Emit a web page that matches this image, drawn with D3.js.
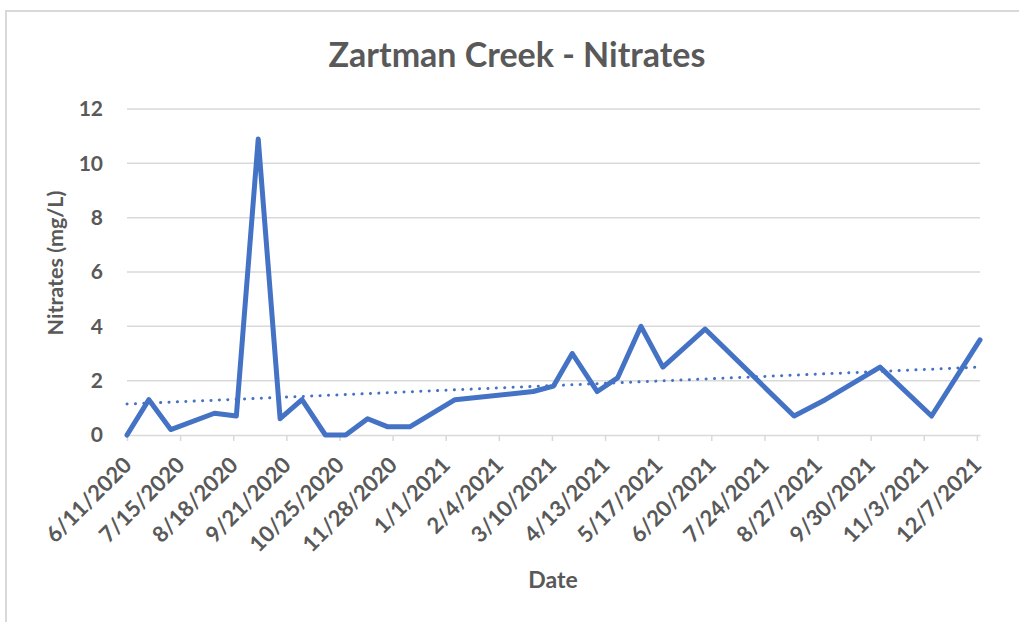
<!DOCTYPE html>
<html>
<head>
<meta charset="utf-8">
<script src="https://cdn.jsdelivr.net/npm/d3@7"></script>
<style>
    body { margin: 0; background: #fff; }
    svg { display: block; font-family: Lato, "Open Sans", sans-serif; }
    .tick-label { font-family: Lato, "Open Sans", sans-serif; font-weight: bold; fill: #595959; }
</style>
</head>
<body>
<div id="chart"></div>
<script>
// sample dates and nitrate readings (mg/L)
const sampleDates = [
    "6/11/2020", "6/25/2020", "7/9/2020", "8/6/2020", "8/20/2020", "9/3/2020",
    "9/17/2020", "10/1/2020", "10/16/2020", "10/29/2020", "11/12/2020", "11/25/2020",
    "12/9/2020", "1/7/2021", "2/26/2021", "3/11/2021", "3/23/2021", "4/8/2021",
    "4/21/2021", "5/6/2021", "5/20/2021", "6/16/2021", "8/12/2021", "9/1/2021",
    "10/6/2021", "11/8/2021", "12/9/2021"
];
const nitrates = [
    0, 1.3, 0.2, 0.8, 0.7, 10.9,
    0.6, 1.3, 0, 0, 0.6, 0.3,
    0.3, 1.3, 1.6, 1.8, 3.0, 1.6,
    2.1, 4.0, 2.5, 3.9, 0.7, 1.3,
    2.5, 0.7, 3.5
];

// linear trendline, values read at the first and last date
const trendValues = [1.14, 2.5];

// axis tick labels
const xTickLabels = [
    "6/11/2020", "7/15/2020", "8/18/2020", "9/21/2020", "10/25/2020", "11/28/2020",
    "1/1/2021", "2/4/2021", "3/10/2021", "4/13/2021", "5/17/2021", "6/20/2021",
    "7/24/2021", "8/27/2021", "9/30/2021", "11/3/2021", "12/7/2021"
];
const yTicks = [0, 2, 4, 6, 8, 10, 12];

const W = 1019, H = 622;
const parse = d3.utcParse("%m/%d/%Y");
const fmt = d => `${d.getUTCMonth() + 1}/${d.getUTCDate()}/${d.getUTCFullYear()}`;

const data = sampleDates.map((d, i) => ({ date: parse(d), value: nitrates[i] }));

const svg = d3.select("#chart").append("svg")
    .attr("width", W)
    .attr("height", H);

// chart frame (runs off the right and bottom edge)
svg.append("rect")
    .attr("x", 6).attr("y", 11)
    .attr("width", W + 20).attr("height", H + 20)
    .attr("fill", "#fff")
    .attr("stroke", "#d9d9d9")
    .attr("stroke-width", 2);

// scales
const x = d3.scaleUtc()
    .domain(d3.extent(data, d => d.date))
    .range([127, 980]);

const y = d3.scaleLinear()
    .domain([0, 12])
    .range([435, 109]);

// gridlines
svg.append("g")
    .selectAll("line")
    .data(yTicks.filter(t => t > 0))
    .join("line")
    .attr("x1", x.range()[0]).attr("x2", x.range()[1])
    .attr("y1", d => y(d)).attr("y2", d => y(d))
    .attr("stroke", "#d9d9d9")
    .attr("stroke-width", 1.5);

// y axis labels
const yAxis = svg.append("g")
    .attr("transform", `translate(${x.range()[0]},0)`)
    .call(d3.axisLeft(y).tickValues(yTicks).tickSize(0).tickPadding(24));
yAxis.attr("font-family", null).attr("font-size", null);
yAxis.select(".domain").remove();
yAxis.selectAll("text")
    .attr("class", "tick-label")
    .style("font-size", "21px");

// x axis
const xAxis = svg.append("g")
    .attr("transform", `translate(0,${y(0)})`)
    .call(d3.axisBottom(x)
        .tickValues(xTickLabels.map(parse))
        .tickFormat(fmt)
        .tickSizeInner(6)
        .tickSizeOuter(0));
xAxis.attr("font-family", null).attr("font-size", null);
xAxis.select(".domain").attr("stroke", "#d9d9d9").attr("stroke-width", 1.5);
xAxis.selectAll(".tick line").attr("stroke", "#d9d9d9").attr("stroke-width", 1.5);
xAxis.selectAll("text")
    .attr("class", "tick-label")
    .style("font-size", "22px")
    .attr("text-anchor", "end")
    .attr("x", 0)
    .attr("y", 0)
    .attr("dy", "0.35em")
    .attr("transform", "translate(0,26) rotate(-45)");

const line = d3.line()
    .x(d => x(d.date))
    .y(d => y(d.value));

svg.append("path")
    .datum(data)
    .attr("fill", "none")
    .attr("stroke", "#4472c4")
    .attr("stroke-width", 5)
    .attr("stroke-linejoin", "round")
    .attr("stroke-linecap", "round")
    .attr("d", line);

svg.append("path")
    .datum(x.domain().map((d, i) => ({ date: d, value: trendValues[i] })))
    .attr("fill", "none")
    .attr("stroke", "#4472c4")
    .attr("stroke-width", 3)
    .attr("stroke-linecap", "round")
    .attr("stroke-dasharray", "0.1 8.3")
    .attr("d", line);

// title and axis labels
svg.append("text")
    .attr("x", 517).attr("y", 67)
    .attr("text-anchor", "middle")
    .style("font-size", "34px")
    .style("font-weight", "bold")
    .attr("fill", "#595959")
    .text("Zartman Creek - Nitrates");

svg.append("text")
    .attr("transform", "translate(63,263) rotate(-90)")
    .attr("text-anchor", "middle")
    .style("font-size", "21.5px")
    .style("font-weight", "bold")
    .attr("fill", "#595959")
    .text("Nitrates (mg/L)");

svg.append("text")
    .attr("x", 553).attr("y", 588)
    .attr("text-anchor", "middle")
    .style("font-size", "23px")
    .style("font-weight", "bold")
    .attr("fill", "#595959")
    .text("Date");
</script>
</body>
</html>
